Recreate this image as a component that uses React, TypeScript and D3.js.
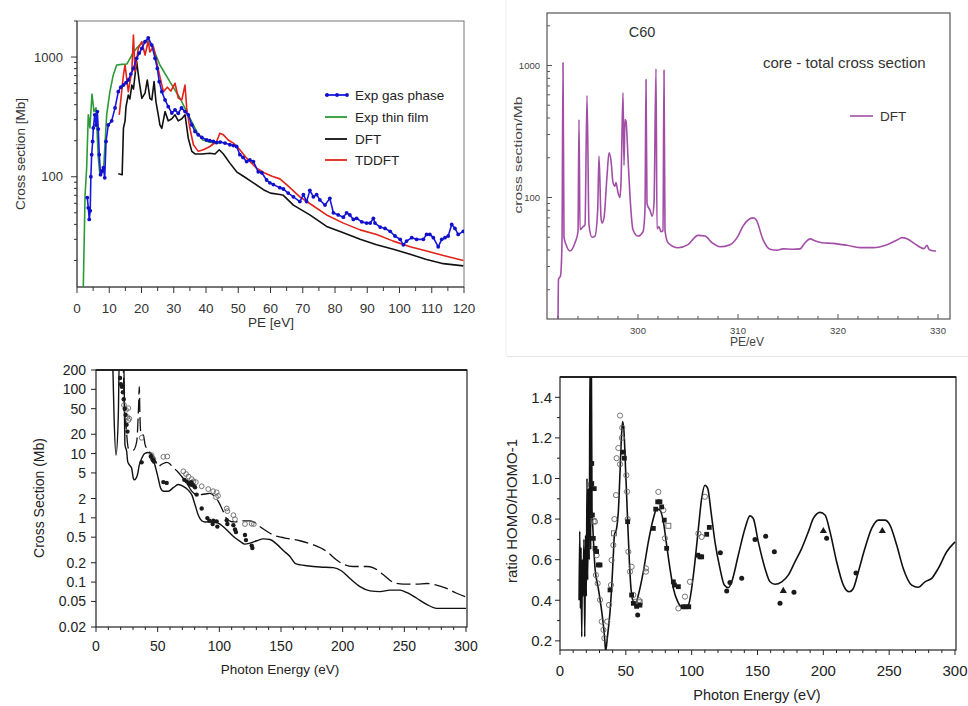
import React from "react";
import * as d3 from "d3";

type P = [number, number];
const FONT = "'Liberation Sans', Arial, Helvetica, sans-serif";

// ---------------- Panel A (top-left): C60 valence cross section ----------------
const aXTicks = [0, 10, 20, 30, 40, 50, 60, 70, 80, 90, 100, 110, 120];
const aYLabels = [100, 1000];
const aLegend = ["Exp gas phase", "Exp thin film", "DFT", "TDDFT"];
const aColors = ["#1818e0", "#2c9a38", "#111111", "#e2231a"];

const aGas: P[] = [
  [3.2, 67], [3.5, 55], [3.8, 44], [4.1, 52], [4.3, 100], [4.55, 153], [4.85, 197], [5.07, 256], [5.5, 329],
  [5.9, 270], [6.3, 350], [6.6, 250], [6.9, 153], [7.3, 104], [7.8, 112], [8.2, 119], [8.6, 98], [9.0, 197],
  [9.7, 271], [10.75, 293], [11.8, 376], [12.8, 514], [13.6, 560], [14.4, 584], [15.2, 610], [15.9, 643],
  [16.7, 720], [17.5, 804], [18.5, 975], [19.3, 1080], [20.1, 1181], [21.1, 1342], [22.1, 1448], [23.2, 1259],
  [24.2, 975], [24.9, 804], [25.5, 623], [26.3, 514], [27.3, 438], [28.3, 385], [29.4, 341], [30.4, 362],
  [31.4, 339], [32.4, 376], [33.5, 350], [34.5, 329], [35.6, 271], [36.6, 239], [37.6, 224], [38.7, 213],
  [40.2, 203], [41.2, 200], [42.3, 197], [43.3, 193], [44.4, 195], [45.9, 191], [47.4, 185], [48.5, 182],
  [49.5, 179], [50.5, 153], [51.5, 145], [52.6, 134], [53.6, 138], [54.7, 134], [56.2, 110], [57.3, 108],
  [58.8, 94], [59.8, 89], [60.9, 86], [62.9, 81], [64, 79], [65.5, 73], [67.1, 68], [69.1, 62], [70.2, 71],
  [71.2, 62], [72.2, 77], [73.3, 68], [74.3, 71], [75.3, 64], [76.9, 58], [78.4, 66], [79.5, 50], [81, 48],
  [82.6, 46], [83.6, 50], [84.6, 48], [85.7, 44], [86.7, 45], [88.3, 42], [89.8, 41], [90.9, 41], [91.9, 45],
  [92.4, 41], [94, 38], [95.5, 37], [97.1, 35], [98.6, 32], [100.2, 30], [101.2, 27], [102.2, 29], [103.8, 31],
  [105.3, 30], [107.4, 30], [108.4, 33], [109.4, 33], [110.5, 31], [112, 26], [113.1, 30], [114.1, 31],
  [115.1, 32], [116.2, 40], [117.2, 37], [118.2, 33], [119.8, 35],
];
const aFilm: P[] = [
  [1.9, 10], [2.5, 70], [3.0, 119], [3.5, 329], [4.0, 256], [4.65, 490], [5.27, 350], [5.9, 376], [6.6, 144],
  [7.1, 104], [8.2, 110], [9.2, 329], [10.2, 514], [11.2, 700], [12.3, 858], [13.9, 869], [15.5, 875],
  [17, 1039], [18.5, 1188], [20, 1300], [21.6, 1386], [23.6, 1188], [25.7, 858], [28.8, 623], [31.9, 455],
  [34.5, 329], [37.1, 239], [39, 203], [41, 195], [43, 190], [45, 195],
];
const aDFT: P[] = [
  [12.8, 106], [14.0, 104], [14.4, 254], [14.9, 293], [15.2, 385], [15.9, 482], [16.4, 447], [17, 584],
  [17.5, 540], [18, 708], [18.5, 914], [19.3, 623], [20.1, 452], [21.1, 500], [21.8, 643], [22.6, 452],
  [23.2, 438], [23.9, 623], [24.5, 420], [25.2, 329], [25.7, 271], [26.3, 254], [27.3, 350], [28.3, 293],
  [29.4, 305], [30.4, 329], [31.4, 293], [32.5, 305], [33.5, 329], [34.5, 210], [35.6, 163], [36.6, 155],
  [38.7, 155], [41.2, 157], [42.8, 155], [44.1, 168], [45.4, 155], [47.4, 130], [49.5, 110], [51.6, 101],
  [54.7, 89], [57.8, 78], [60, 73], [62.9, 71], [64, 70], [67.1, 58], [72.2, 48], [77.4, 38.5], [82.6, 34],
  [87.8, 30], [92.9, 27], [98.1, 24.8], [103.3, 22.5], [108.4, 20.4], [113.6, 18.8], [119.8, 18],
];
const aTDDFT: P[] = [
  [13.1, 329], [14.4, 708], [14.9, 858], [15.9, 514], [17, 770], [17.5, 1526], [18, 755], [19, 1181],
  [20.1, 1342], [21.1, 1039], [22.1, 1360], [22.6, 1101], [23.7, 1219], [24.9, 858], [25.7, 686], [26.8, 514],
  [28, 560], [29.1, 520], [30.4, 604], [31.4, 455], [32.5, 438], [33.5, 584], [34, 376], [35, 254], [36.1, 185],
  [37.6, 163], [39.2, 168], [41.2, 179], [43.3, 197], [44.3, 231], [45.4, 224], [46.9, 203], [48.5, 191],
  [50.5, 168], [52.6, 143], [55.7, 118], [58, 108], [60.5, 101], [62.9, 96], [65, 86], [69.1, 68], [73.3, 57],
  [77.4, 48], [82.6, 41], [87.8, 36], [92.9, 33], [98.1, 29], [103.3, 26], [108.4, 24], [113.6, 22], [119.8, 20],
];

// ---------------- Panel B (top-right): C60 core cross section ----------------
const bXTicks = [300, 310, 320, 330];
const bYLabels = [100, 1000];
const bDFT: P[] = [
  [292.0, 11], [292.05, 24], [292.25, 25.5], [292.4, 45.4], [292.5, 1050], [292.6, 50], [292.8, 44],
  [293.2, 39.3], [293.7, 45.4], [294.0, 55], [294.1, 390], [294.2, 57], [294.5, 60], [294.7, 62], [294.9, 593],
  [295.1, 62], [295.4, 50], [295.7, 51], [295.97, 81], [296.1, 206], [296.3, 71], [296.4, 64], [296.6, 70],
  [296.9, 145], [297.1, 218], [297.3, 190], [297.5, 130], [297.7, 122], [297.8, 130], [298.0, 109], [298.2, 100],
  [298.3, 130], [298.5, 621], [298.6, 175], [298.7, 390], [298.8, 380], [299.0, 200], [299.2, 102], [299.5, 57],
  [300.0, 51], [300.5, 55], [300.7, 81], [300.8, 783], [300.9, 90], [301.2, 80], [301.43, 72], [301.6, 90],
  [301.8, 944], [301.9, 58], [302.1, 60], [302.3, 55], [302.5, 56], [302.6, 920], [302.7, 56], [303.0, 45.4],
  [304.0, 41.6], [305.0, 43.9], [306.0, 51.6], [306.7, 51], [307.4, 45.4], [308.2, 42.3], [309.2, 43.9],
  [310.0, 51], [310.5, 60.6], [311.5, 70], [311.8, 68], [312.5, 48], [313.2, 40.5], [313.9, 39.8], [314.5, 40.8],
  [315.5, 40.5], [316.2, 40.8], [316.7, 45.4], [317.2, 48.6], [317.7, 47], [318.4, 45.4], [319.5, 44.9],
  [320.9, 43.4], [322.2, 41.7], [323.5, 41.7], [324.9, 43.9], [325.9, 47.6], [326.4, 49.6], [326.9, 48.6],
  [327.9, 43.4], [328.6, 41], [328.9, 43.4], [329.1, 40.5], [329.5, 39.5], [329.8, 39.3],
];

// ---------------- Panel C (bottom-left): cross section vs photon energy ----------------
const cXTicks = [0, 50, 100, 150, 200, 250, 300];
const cYTicks = [200, 100, 50, 20, 10, 5, 2, 1, 0.5, 0.2, 0.1, 0.05, 0.02];
const cSolid: P[] = [
  [13.5, 300], [14.6, 40], [16.2, 9.5], [18.1, 40], [18.9, 300], [22.5, 300], [23.5, 13.6], [24.9, 10.7],
  [25.7, 7.5], [26.8, 6.8], [28.9, 5.9], [30.3, 4.1], [31.1, 3.9], [33.5, 4.6], [35.1, 6.6], [37, 8.4],
  [39.7, 10.1], [42.4, 10.4], [45.1, 9.5], [47.8, 6.6], [50.5, 4.1], [52.4, 2.9], [54.6, 2.6], [58.6, 2.6],
  [62.7, 2.95], [66.7, 3.3], [70.8, 3.1], [74.8, 2.7], [77.6, 2.3], [80.3, 1.6], [82.9, 1.11], [85.7, 0.9],
  [88.4, 0.86], [92.4, 0.87], [96.5, 0.86], [100.5, 0.8], [104.6, 0.69], [108.6, 0.58], [112.7, 0.49],
  [116.8, 0.43], [120.8, 0.39], [124.9, 0.405], [130.3, 0.44], [135.7, 0.47], [141.1, 0.46], [146.5, 0.39],
  [151.9, 0.31], [157.3, 0.25], [161.4, 0.196], [166, 0.185], [170.8, 0.18], [181.6, 0.172], [192.4, 0.168],
  [199.2, 0.149], [205.9, 0.114], [214, 0.085], [222.2, 0.073], [230.3, 0.071], [238.4, 0.075], [246.5, 0.075],
  [251.9, 0.069], [260, 0.056], [268.1, 0.045], [276.2, 0.039], [287, 0.039], [300, 0.039],
];
const cDashed: P[] = [
  [22, 300], [23, 60], [24.5, 25], [26.2, 12.1], [28, 11.5], [30.3, 11.3], [33, 15.3], [34.6, 60], [35.1, 110],
  [35.6, 40], [36.5, 20], [38.4, 19.5], [39.7, 14], [41.1, 12], [43.8, 10.4], [46.5, 9], [48.5, 7.5],
  [50.5, 6.3], [53.2, 6.8], [57.3, 7.3], [60, 6.9], [62, 6.2], [65.9, 5.3], [69.5, 4.4], [73.5, 3.5],
  [77.6, 2.6], [80.3, 2.35], [84.3, 2.3], [88.4, 2.35], [92.4, 2.4], [95.7, 2.2], [99.2, 1.8], [103.2, 1.25],
  [106, 0.97], [110, 0.87], [114.1, 0.87], [119.5, 0.9], [124.9, 0.9], [127.6, 0.87], [131.6, 0.76],
  [138.4, 0.62], [143.8, 0.54], [150, 0.5], [154.6, 0.48], [165.4, 0.44], [176.2, 0.38], [187, 0.3],
  [195.1, 0.22], [200.5, 0.19], [208.6, 0.175], [219.5, 0.175], [224.9, 0.167], [233, 0.13], [241.1, 0.099],
  [249.2, 0.093], [260, 0.093], [268.1, 0.095], [276.2, 0.09], [284.3, 0.08], [292.4, 0.067], [300, 0.059],
];
const cOpen: P[] = [
  [22.7, 57], [24.3, 48], [25.4, 37], [26.2, 33], [26.2, 51], [27, 35], [37, 17.6], [45, 9.5], [46, 8.5],
  [46.5, 8], [54.6, 8.9], [57.8, 9.0], [70.8, 5.3], [73, 4.8], [75, 4.4], [77.6, 4.0], [79, 3.7], [81, 3.6],
  [85.7, 3.1], [91, 2.8], [95, 2.6], [97.8, 2.5], [97.3, 2.1], [99, 2.2], [106, 1.4], [106.5, 1.27],
  [111.4, 1.1], [112.7, 0.95], [120.8, 0.8], [126.2, 0.81], [128, 0.8],
];
const cFilled: P[] = [
  [19.5, 150], [20.2, 120], [21, 110], [21.8, 90], [22.5, 70], [23.3, 50], [24, 40], [24.8, 28], [25.5, 22],
  [37, 7.3], [44.5, 9], [46, 8], [47, 7.5], [54.6, 3.6], [57.3, 3.5], [71.6, 3.9], [73.5, 3.7], [75, 3.5],
  [76.4, 3.3], [77.8, 3.3], [77.3, 3.6], [78.9, 3.2], [80.3, 3.0], [81.6, 2.3], [85.7, 1.4], [90.3, 0.99],
  [91.9, 0.9], [95.1, 0.9], [94.6, 0.8], [97.8, 0.88], [98.4, 0.73], [106, 0.92], [106.5, 0.8], [111.4, 0.77],
  [112.7, 0.66], [113.5, 0.6], [120.8, 0.54], [121.6, 0.45], [126.2, 0.37], [126.8, 0.34],
];

// ---------------- Panel D (bottom-right): ratio HOMO/HOMO-1 ----------------
const dXTicks = [0, 50, 100, 150, 200, 250, 300];
const dYTicks = [0.2, 0.4, 0.6, 0.8, 1.0, 1.2, 1.4];
const dLine: P[] = [
  [14.5, 0.4], [15, 0.74], [15.5, 0.36], [16, 0.66], [16.5, 0.22], [17, 0.6], [17.5, 0.42], [18.2, 0.7],
  [18.8, 0.22], [19.4, 0.72], [20, 0.42], [20.5, 1.0], [21, 0.5], [21.6, 0.95], [22.2, 0.6], [22.8, 1.6],
  [23.3, 0.65], [23.8, 1.6], [24.3, 0.85], [25.0, 0.75], [26.6, 0.557], [29.1, 0.459], [31.7, 0.344],
  [33.7, 0.23], [34.7, 0.15], [35.9, 0.213], [38, 0.344], [39.2, 0.459], [40.5, 0.622], [41.3, 0.72],
  [43, 0.754], [44.3, 0.836], [45.6, 1.033], [46.8, 1.22], [47.6, 1.28], [48.6, 1.23], [49.9, 1.03],
  [51.4, 0.787], [52.7, 0.59], [53.9, 0.459], [55.7, 0.393], [57.5, 0.385], [59.5, 0.426], [63.3, 0.541],
  [67.1, 0.688], [70.9, 0.803], [73.4, 0.849], [75.9, 0.844], [78.5, 0.787], [81, 0.672], [83.5, 0.557],
  [86.1, 0.459], [89.4, 0.393], [92.4, 0.368], [94.9, 0.368], [97.5, 0.376], [100, 0.459], [102.5, 0.59],
  [105.1, 0.754], [107.6, 0.902], [110.1, 0.967], [112.2, 0.951], [114.7, 0.836], [117.7, 0.688],
  [121.5, 0.557], [124.8, 0.475], [127.8, 0.462], [130.4, 0.491], [135.4, 0.622], [140.5, 0.754],
  [144.3, 0.816], [146.8, 0.803], [150.6, 0.688], [155.7, 0.557], [159.5, 0.491], [163.3, 0.479],
  [168.4, 0.491], [173.4, 0.524], [178.5, 0.59], [183.6, 0.656], [188.6, 0.737], [192.4, 0.803],
  [197.5, 0.833], [201.3, 0.82], [205.1, 0.737], [210.1, 0.59], [215.2, 0.475], [219.7, 0.442],
  [222.8, 0.459], [226.6, 0.541], [231.6, 0.656], [236.7, 0.754], [241.8, 0.795], [246.8, 0.795],
  [250.6, 0.77], [255.7, 0.672], [260.7, 0.557], [267.1, 0.475], [272.1, 0.464], [277.2, 0.491],
  [282.3, 0.508], [287.3, 0.557], [293.7, 0.639], [300, 0.688],
];
const dOpenCircles: P[] = [
  [45.6, 1.31], [47.3, 1.25], [47, 1.2], [44.3, 1.15], [43, 1.1], [45.6, 1.07], [42.5, 0.918], [41.3, 0.8],
  [40.5, 0.672], [39.2, 0.598], [38.7, 0.475], [37.2, 0.377], [35.9, 0.295], [50.4, 1.016], [50.9, 0.935],
  [51.4, 0.8], [51.9, 0.639], [53.2, 0.541], [54.4, 0.565], [55.7, 0.426], [57, 0.393], [58.2, 0.377],
  [60, 0.4], [65.3, 0.557], [65.3, 0.541], [26.6, 0.787], [27.8, 0.622], [27.3, 0.524], [28.6, 0.483],
  [30.4, 0.402], [31.7, 0.295], [33, 0.254], [33.7, 0.213], [74.7, 0.934], [78.5, 0.844], [79.7, 0.705],
  [89.9, 0.36], [94.9, 0.418], [98.7, 0.491], [105.1, 0.729], [110.1, 0.91], [107.6, 0.712],
];
const dOpenSquares: P[] = [[41, 0.73], [82.3, 0.767], [60.5, 0.39], [25.5, 0.79]];
const dFilledSquares: P[] = [
  [24.1, 1.074], [24.1, 0.975], [23.5, 0.97], [26, 0.95], [24.6, 0.82], [25.3, 0.705], [26.6, 0.656],
  [27.8, 0.64], [29.1, 0.574], [30.4, 0.574], [38, 0.451], [48.1, 1.13], [48.9, 1.1], [51.4, 0.787],
  [54.4, 0.426], [55.7, 0.385], [58.2, 0.37], [60.7, 0.376], [70.9, 0.754], [72.7, 0.849], [74.2, 0.885],
  [75.9, 0.885], [77.2, 0.86], [79.2, 0.795], [81, 0.656], [86.1, 0.491], [86.9, 0.475], [89.9, 0.467],
  [93.6, 0.368], [95.5, 0.368], [97.8, 0.368], [104.6, 0.622], [106.3, 0.614], [107.6, 0.614],
  [111.4, 0.725], [113.4, 0.759],
];
const dFilledDots: P[] = [
  [59, 0.328], [121.8, 0.634], [126.6, 0.446], [129.1, 0.487], [138, 0.508], [148.1, 0.7], [156.2, 0.716],
  [162.8, 0.639], [167.1, 0.385], [177.7, 0.44], [202.5, 0.705], [224.8, 0.534],
];
const dTriangles: P[] = [[169.6, 0.446], [200, 0.741], [244.8, 0.741]];

// ---------------- helpers ----------------
function logMinor(lo: number, hi: number) {
  const out: { v: number; major: boolean }[] = [];
  for (let e = Math.floor(Math.log10(lo)); e <= Math.ceil(Math.log10(hi)); e++) {
    for (let k = 1; k <= 9; k++) {
      const v = k * Math.pow(10, e);
      if (v >= lo * 0.999 && v <= hi * 1.001) out.push({ v, major: k === 1 });
    }
  }
  return out;
}
const fmt = (v: number) => String(v);

function PanelA() {
  const L = 77, R = 464, T = 21, B = 287;
  const x = d3.scaleLinear().domain([0, 120]).range([L, R]);
  const y = d3.scaleLog().domain([12, 2000]).range([B, T]);
  const line = d3.line<P>().x((d) => x(d[0])).y((d) => y(d[1]));
  const minorX = d3.range(0, 121, 5);
  const yt = logMinor(12, 2000);
  const series = [aGas, aFilm, aDFT, aTDDFT];
  const legendY = [95, 117, 139, 160];
  return (
    <g fontFamily={FONT}>
      <defs>
        <clipPath id="clipA"><rect x={L} y={T} width={R - L} height={B - T} /></clipPath>
      </defs>
      <rect x={L} y={T} width={R - L} height={B - T} fill="none" stroke="#777" strokeWidth={1} />
      <line x1={L} x2={L} y1={T} y2={B} stroke="#333" />
      <line x1={L} x2={R} y1={B} y2={B} stroke="#333" />
      <g clipPath="url(#clipA)" fill="none" strokeLinejoin="round">
        <path d={line(aFilm) || ""} stroke={aColors[1]} strokeWidth={1.6} />
        <path d={line(aDFT) || ""} stroke={aColors[2]} strokeWidth={1.6} />
        <path d={line(aTDDFT) || ""} stroke={aColors[3]} strokeWidth={1.6} />
        <path d={line(aGas) || ""} stroke={aColors[0]} strokeWidth={1.6} />
        {aGas.map((d, i) => (
          <circle key={i} cx={x(d[0])} cy={y(d[1])} r={1.9} fill="#1010c8" stroke="none" />
        ))}
      </g>
      {minorX.map((v) => (
        <line key={v} x1={x(v)} x2={x(v)} y1={B} y2={B + (v % 10 === 0 ? 6 : 4)} stroke="#333" />
      ))}
      {aXTicks.map((v) => (
        <text key={v} x={x(v)} y={313} fontSize={13.5} textAnchor="middle" fill="#333">{v}</text>
      ))}
      {yt.map((t) => (
        <line key={t.v} x1={L - (t.major ? 6 : 3)} x2={L} y1={y(t.v)} y2={y(t.v)} stroke="#333" />
      ))}
      {aYLabels.map((v) => (
        <text key={v} x={63} y={y(v) + 4.6} fontSize={13} textAnchor="end" fill="#333">{v}</text>
      ))}
      <text x={271} y={327} fontSize={13.5} textAnchor="middle" fill="#333">PE [eV]</text>
      <text transform="translate(25,154) rotate(-90)" fontSize={13.5} textAnchor="middle" fill="#333">
        Cross section [Mb]
      </text>
      {aLegend.map((name, i) => (
        <g key={name}>
          <line x1={325} x2={347} y1={legendY[i]} y2={legendY[i]} stroke={aColors[i]} strokeWidth={1.8} />
          {i === 0 && [327, 337, 347].map((cx) => (
            <circle key={cx} cx={cx} cy={legendY[i]} r={1.9} fill="#1010c8" />
          ))}
          <text x={355} y={legendY[i] + 5} fontSize={13.5} fill="#222">{name}</text>
        </g>
      ))}
    </g>
  );
}

function PanelB() {
  const L = 547, R = 950, T = 13, B = 319;
  const x = d3.scaleLinear().domain([290.9, 331.2]).range([L, R]);
  const y = d3.scaleLog().domain([12, 2500]).range([B, T]);
  const line = d3.line<P>().x((d) => x(d[0])).y((d) => y(d[1])).curve(d3.curveMonotoneX);
  const minorX = d3.range(292, 331, 2);
  const yt = logMinor(12, 2500);
  const purple = "#a24ea6";
  return (
    <g fontFamily={FONT}>
      <defs>
        <clipPath id="clipB"><rect x={L} y={T} width={R - L} height={B - T} /></clipPath>
      </defs>
      <line x1={506} x2={506} y1={0} y2={356} stroke="#eeeeee" />
      <line x1={507} x2={968} y1={356.5} y2={356.5} stroke="#e2e2e2" />
      <rect x={L} y={T} width={R - L} height={B - T} fill="none" stroke="#555" strokeWidth={1.2} />
      <g clipPath="url(#clipB)">
        <path d={line(bDFT) || ""} fill="none" stroke={purple} strokeWidth={1.6} strokeLinejoin="round" />
      </g>
      {minorX.map((v) => (
        <line key={v} x1={x(v)} x2={x(v)} y1={B} y2={B - (v % 10 === 0 ? 5 : 3)} stroke="#555" />
      ))}
      {bXTicks.map((v) => (
        <text key={v} x={x(v)} y={333.5} fontSize={9.5} textAnchor="middle" fill="#444">{v}</text>
      ))}
      {yt.map((t) => (
        <line key={t.v} x1={L} x2={L + (t.major ? 5 : 3)} y1={y(t.v)} y2={y(t.v)} stroke="#555" />
      ))}
      {bYLabels.map((v) => (
        <text key={v} x={540} y={y(v) + 3.4} fontSize={9.5} textAnchor="end" fill="#444">{v}</text>
      ))}
      <text x={747} y={346} fontSize={12} textAnchor="middle" fill="#444">PE/eV</text>
      <text transform="translate(521.5,155) rotate(-90)" fontSize={10.5} textAnchor="middle" fill="#444"
        textLength={117} lengthAdjust="spacingAndGlyphs">cross section/Mb</text>
      <text x={642} y={37} fontSize={14.5} textAnchor="middle" fill="#333">C60</text>
      <text x={763} y={68} fontSize={15} fill="#333">core - total cross section</text>
      <line x1={850} x2={873} y1={116} y2={116} stroke={purple} strokeWidth={1.6} />
      <text x={880} y={121} fontSize={13.5} fill="#333">DFT</text>
    </g>
  );
}

function PanelC() {
  const L = 96, R = 467, T = 370, B = 627;
  const x = d3.scaleLinear().domain([0, 300]).range([96, 466]);
  const y = d3.scaleLog().domain([0.02, 200]).range([B, T]);
  const line = d3.line<P>().x((d) => x(d[0])).y((d) => y(d[1])).curve(d3.curveMonotoneX);
  const minorX = d3.range(0, 301, 10);
  return (
    <g fontFamily={FONT}>
      <defs>
        <clipPath id="clipC"><rect x={L} y={T} width={R - L} height={B - T} /></clipPath>
      </defs>
      <rect x={L} y={T} width={R - L} height={B - T} fill="none" stroke="#222" strokeWidth={1.2} />
      <line x1={L} x2={R} y1={T} y2={T} stroke="#222" strokeWidth={2} />
      <g clipPath="url(#clipC)" fill="none">
        <path d={line(cSolid) || ""} stroke="#111" strokeWidth={1.4} />
        <path d={line(cDashed) || ""} stroke="#111" strokeWidth={1.3} strokeDasharray="14 5" />
        {cOpen.map((d, i) => (
          <circle key={i} cx={x(d[0])} cy={y(d[1])} r={2.4} stroke="#666" strokeWidth={0.9} fill="none" />
        ))}
        {cFilled.map((d, i) => (
          <circle key={i} cx={x(d[0])} cy={y(d[1])} r={2.2} fill="#1a1a1a" />
        ))}
      </g>
      {minorX.map((v) => (
        <line key={v} x1={x(v)} x2={x(v)} y1={B} y2={B + (v % 50 === 0 ? 5 : 3)} stroke="#222" />
      ))}
      {cXTicks.map((v) => (
        <text key={v} x={x(v)} y={650.5} fontSize={14} textAnchor="middle" fill="#222">{v}</text>
      ))}
      {cYTicks.map((v) => (
        <g key={v}>
          <line x1={L - 5} x2={L} y1={y(v)} y2={y(v)} stroke="#222" />
          <text x={86} y={y(v) + 5} fontSize={14} textAnchor="end" fill="#222">{fmt(v)}</text>
        </g>
      ))}
      <text x={280} y={674} fontSize={13.5} textAnchor="middle" fill="#222">Photon Energy (eV)</text>
      <text transform="translate(44,498) rotate(-90)" fontSize={14} textAnchor="middle" fill="#222">
        Cross Section (Mb)
      </text>
    </g>
  );
}

function PanelD() {
  const L = 560, R = 956, T = 377, B = 650;
  const x = d3.scaleLinear().domain([0, 300]).range([560, 955]);
  const y = d3.scaleLinear().domain([0.155, 1.5]).range([B, T]);
  const line = d3.line<P>().x((d) => x(d[0])).y((d) => y(d[1])).curve(d3.curveMonotoneX);
  const minorX = d3.range(0, 301, 10);
  const minorY = d3.range(2, 15).map((k) => k / 10);
  const tri = d3.symbol().type(d3.symbolTriangle).size(22)();
  return (
    <g fontFamily={FONT}>
      <defs>
        <clipPath id="clipD"><rect x={L} y={T} width={R - L} height={B - T} /></clipPath>
      </defs>
      <rect x={L} y={T} width={R - L} height={B - T} fill="none" stroke="#222" strokeWidth={1.2} />
      <line x1={L} x2={R} y1={T} y2={T} stroke="#222" strokeWidth={1.8} />
      <g clipPath="url(#clipD)">
        <path d={line(dLine) || ""} fill="none" stroke="#111" strokeWidth={1.6} strokeLinejoin="round" />
        {dOpenCircles.map((d, i) => (
          <circle key={i} cx={x(d[0])} cy={y(d[1])} r={2.6} stroke="#666" strokeWidth={0.9} fill="white" fillOpacity={0} />
        ))}
        {dOpenSquares.map((d, i) => (
          <rect key={i} x={x(d[0]) - 2.5} y={y(d[1]) - 2.5} width={5} height={5} stroke="#666" strokeWidth={0.9} fill="none" />
        ))}
        {dFilledSquares.map((d, i) => (
          <rect key={i} x={x(d[0]) - 2.4} y={y(d[1]) - 2.4} width={4.8} height={4.8} fill="#1a1a1a" />
        ))}
        {dFilledDots.map((d, i) => (
          <circle key={i} cx={x(d[0])} cy={y(d[1])} r={2.5} fill="#1a1a1a" />
        ))}
        {dTriangles.map((d, i) => (
          <path key={i} d={tri || ""} transform={`translate(${x(d[0])},${y(d[1])})`} fill="#1a1a1a" />
        ))}
      </g>
      {minorX.map((v) => (
        <line key={v} x1={x(v)} x2={x(v)} y1={B} y2={B + (v % 50 === 0 ? 5 : 3)} stroke="#222" />
      ))}
      {dXTicks.map((v) => (
        <text key={v} x={x(v)} y={675.5} fontSize={15} textAnchor="middle" fill="#222">{v}</text>
      ))}
      {minorY.map((v) => (
        <line key={v} x1={L - (Math.round(v * 10) % 2 === 0 ? 5 : 3)} x2={L} y1={y(v)} y2={y(v)} stroke="#222" />
      ))}
      {dYTicks.map((v) => (
        <text key={v} x={552} y={y(v) + 5.3} fontSize={15} textAnchor="end" fill="#222">{v.toFixed(1)}</text>
      ))}
      <text x={757} y={700} fontSize={14.5} textAnchor="middle" fill="#222">Photon Energy (eV)</text>
      <text transform="translate(516.5,511) rotate(-90)" fontSize={15} textAnchor="middle" fill="#222">
        ratio HOMO/HOMO-1
      </text>
    </g>
  );
}

export default function App() {
  return (
    <div style={{ position: "absolute", left: 0, top: 0, width: 968, height: 706, background: "#fff" }}>
      <svg width={968} height={706} viewBox="0 0 968 706" style={{ display: "block" }}>
        <rect x={0} y={0} width={968} height={706} fill="#ffffff" />
        <PanelA />
        <PanelB />
        <PanelC />
        <PanelD />
      </svg>
    </div>
  );
}
